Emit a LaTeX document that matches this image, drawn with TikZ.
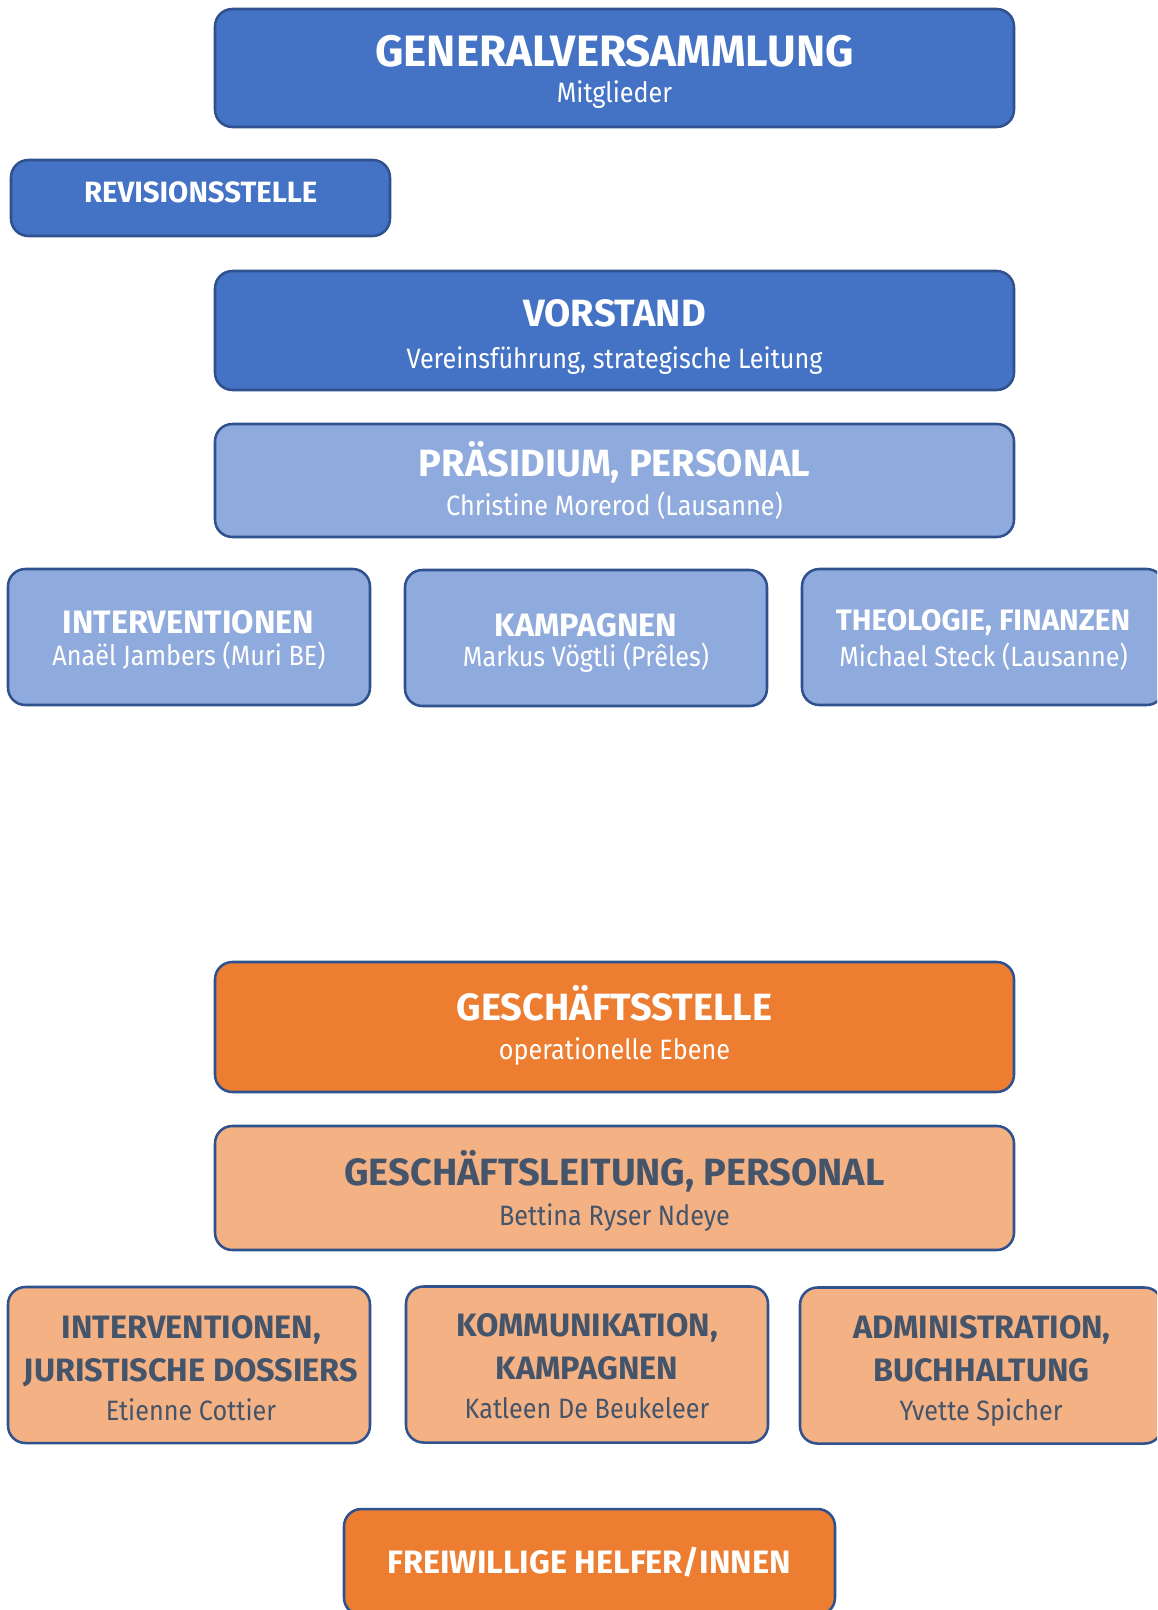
\documentclass[tikz,border=0pt]{standalone}
\usepackage{fontspec}
\setmainfont{Fira Sans}
\newfontfamily\subfnt{Fira Sans}[FakeStretch=0.9]
\definecolor{dblue}{HTML}{4472C4}
\definecolor{lblue}{HTML}{8FAADC}
\definecolor{bord}{HTML}{2F528F}
\definecolor{dorange}{HTML}{ED7D31}
\definecolor{lorange}{HTML}{F4B183}
\definecolor{dtext}{HTML}{44546A}
\tikzset{
  box/.style={draw=bord, line width=1.9pt, rounded corners=13pt, inner sep=0pt},
  sz/.style 2 args={minimum width=#1*0.75pt, minimum height=#2*0.75pt},
  bigt/.style={font=\bfseries\fontsize{28.5}{28.5}\selectfont, inner sep=0pt, anchor=base},
  midt/.style={font=\bfseries\fontsize{24.3}{24.3}\selectfont, inner sep=0pt, anchor=base},
  subt/.style={font=\subfnt\fontsize{21}{21}\selectfont, inner sep=0pt, anchor=base},
}
\begin{document}
\begin{tikzpicture}[x=0.75pt,y=-0.75pt]
\clip (0,0) rectangle (1157,1610);
% boxes
\node[box, fill=dblue, sz={799}{118}] (gv) at (614.5,68) {};
\node[box, fill=dblue, sz={379}{76}] (rev) at (200.5,198) {};
\node[box, fill=dblue, sz={799}{119}] (vor) at (614.5,330.5) {};
\node[box, fill=lblue, sz={799}{113}] (prae) at (614.5,480.5) {};
\node[box, fill=lblue, sz={362}{136}] (int) at (189,637) {};
\node[box, fill=lblue, sz={362}{136}] (kam) at (586,638) {};
\node[box, fill=lblue, sz={362}{136}] (theo) at (983,637) {};
\node[box, fill=dorange, sz={799}{130}] (gs) at (614.5,1027) {};
\node[box, fill=lorange, sz={799}{124}] (gl) at (614.5,1188) {};
\node[box, fill=lorange, sz={362}{156}] (int2) at (189,1365) {};
\node[box, fill=lorange, sz={362}{156}] (kom) at (587,1364.5) {};
\node[box, fill=lorange, sz={362}{156}] (adm) at (981,1365.5) {};
\node[box, fill=dorange, sz={491}{106}] (frei) at (589.5,1562) {};
% texts
\node[bigt, text=white, font=\bfseries\fontsize{33}{33}\selectfont] (gvA) at (614.5,66) {GENERALVERSAMMLUNG};
\node[subt, text=white] (gvB) at (614.5,102) {Mitglieder};
\node[bigt, text=white, font=\bfseries\fontsize{22}{22}\selectfont] (revA) at (200.7,202) {REVISIONSSTELLE};
\node[bigt, text=white] (vorA) at (614.5,326) {VORSTAND};
\node[subt, text=white] (vorB) at (614.5,368) {Vereinsführung, strategische Leitung};
\node[bigt, text=white] (praeA) at (614.5,476) {PRÄSIDIUM, PERSONAL};
\node[subt, text=white] (praeB) at (614.5,515) {Christine Morerod (Lausanne)};
\node[midt, text=white] (intA) at (188.5,633) {INTERVENTIONEN};
\node[subt, text=white] (intB) at (189,665) {Anaël Jambers (Muri BE)};
\node[midt, text=white] (kamA) at (586,636) {KAMPAGNEN};
\node[subt, text=white] (kamB) at (586,666) {Markus Vögtli (Prêles)};
\node[midt, text=white, font=\bfseries\fontsize{22.2}{22.2}\selectfont] (theoA) at (983,630) {THEOLOGIE, FINANZEN};
\node[subt, text=white] (theoB) at (983.5,666) {Michael Steck (Lausanne)};
\node[bigt, text=white] (gsA) at (614.5,1020) {GESCHÄFTSSTELLE};
\node[subt, text=white] (gsB) at (614.5,1059) {operationelle Ebene};
\node[bigt, text=dtext] (glA) at (614.5,1185) {GESCHÄFTSLEITUNG, PERSONAL};
\node[subt, text=dtext] (glB) at (614.5,1225) {Bettina Ryser Ndeye};
\node[midt, text=dtext] (int2A) at (191.5,1338) {INTERVENTIONEN,};
\node[midt, text=dtext] (int2B) at (191,1381) {JURISTISCHE DOSSIERS};
\node[subt, text=dtext] (int2C) at (191,1420) {Etienne Cottier};
\node[midt, text=dtext] (komA) at (587,1336) {KOMMUNIKATION,};
\node[midt, text=dtext] (komB) at (587,1379) {KAMPAGNEN};
\node[subt, text=dtext] (komC) at (587,1418) {Katleen De Beukeleer};
\node[midt, text=dtext] (admA) at (982,1338) {ADMINISTRATION,};
\node[midt, text=dtext] (admB) at (981.5,1381) {BUCHHALTUNG};
\node[subt, text=dtext] (admC) at (981,1420) {Yvette Spicher};
\node[midt, text=white] (freiA) at (589,1573) {FREIWILLIGE HELFER/INNEN};
\end{tikzpicture}
\end{document}
